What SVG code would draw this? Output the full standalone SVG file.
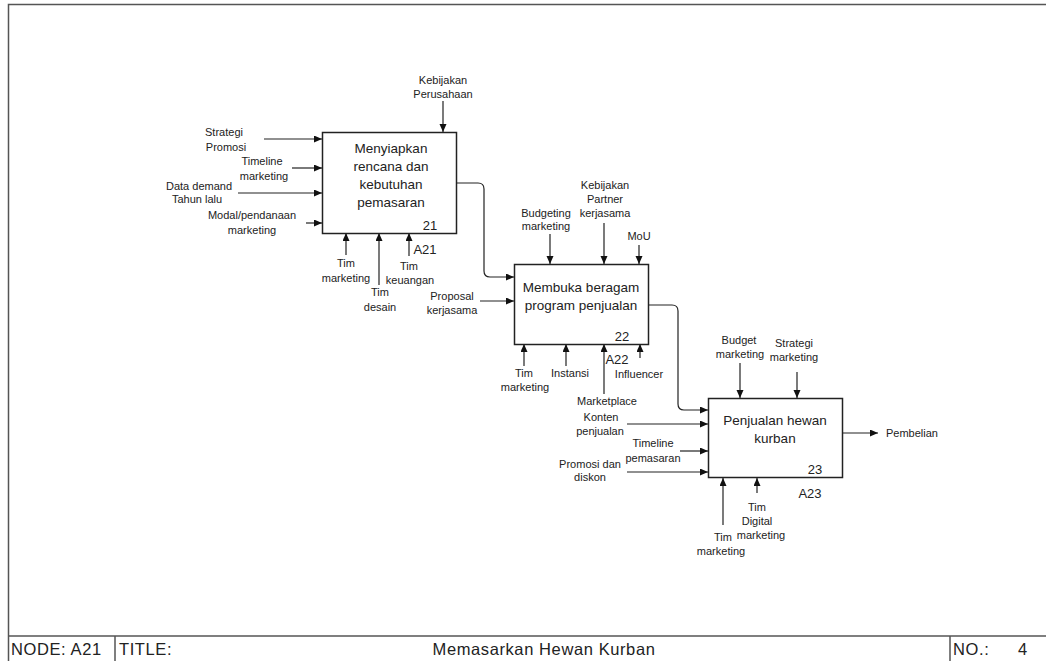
<svg xmlns="http://www.w3.org/2000/svg" width="1046" height="661" viewBox="0 0 1046 661">
  <style>
    .frame { fill: none; stroke: #555; stroke-width: 1.5; }
    .box { fill: #fff; stroke: #222; stroke-width: 1.5; }
    .conn { fill: none; stroke: #222; stroke-width: 1.2; marker-end: url(#arrow); }
    .lbl { font-family: "Liberation Sans", Arial, sans-serif; font-size: 11px; fill: #222; text-anchor: middle; dominant-baseline: central; }
    .title { font-family: "Liberation Sans", Arial, sans-serif; font-size: 13.5px; fill: #222; text-anchor: middle; dominant-baseline: central; }
    .num { font-family: "Liberation Sans", Arial, sans-serif; font-size: 13px; fill: #222; text-anchor: middle; dominant-baseline: central; }
    .bar { font-family: "Liberation Sans", Arial, sans-serif; font-size: 16.5px; letter-spacing: 0.6px; fill: #222; dominant-baseline: central; }
  </style>
  <defs>
    <marker id="arrow" markerUnits="userSpaceOnUse" markerWidth="9" markerHeight="8" refX="8" refY="3.5" orient="auto">
      <path d="M0,0 L8,3.5 L0,7 z" fill="#111"/>
    </marker>
  </defs>

  <rect width="1046" height="661" fill="#fff"/>

  <!-- drawing frame and title bar -->
  <g id="frame">
    <path class="frame" d="M1046,4.5 H8.5 V661"/>
    <line class="frame" x1="8" y1="636" x2="1046" y2="636"/>
    <line class="frame" x1="115" y1="636" x2="115" y2="661"/>
    <line class="frame" x1="950" y1="636" x2="950" y2="661"/>
    <text class="bar" x="11" y="649">NODE: A21</text>
    <text class="bar" x="119" y="649">TITLE:</text>
    <text class="bar" x="544" y="649" text-anchor="middle">Memasarkan Hewan Kurban</text>
    <text class="bar" x="953" y="649">NO.:</text>
    <text class="bar" x="1023" y="649" text-anchor="middle">4</text>
  </g>

  <!-- connectors -->
  <g id="connectors">
    <!-- box 21 inputs -->
    <line class="conn" x1="264" y1="139" x2="322" y2="139"/>
    <line class="conn" x1="292" y1="168" x2="322" y2="168"/>
    <line class="conn" x1="238" y1="193" x2="322" y2="193"/>
    <line class="conn" x1="306" y1="223" x2="322" y2="223"/>
    <!-- box 21 control -->
    <line class="conn" x1="443" y1="101" x2="443" y2="132"/>
    <!-- box 21 mechanisms -->
    <line class="conn" x1="346" y1="255" x2="346" y2="233"/>
    <line class="conn" x1="379" y1="285" x2="379" y2="233"/>
    <line class="conn" x1="409" y1="256" x2="409" y2="233"/>
    <!-- 21 -> 22 -->
    <path class="conn" d="M457,183 H478 Q484,183 484,189 V271 Q484,277 490,277 H514"/>

    <!-- box 22 input -->
    <line class="conn" x1="480" y1="301" x2="514" y2="301"/>
    <!-- box 22 controls -->
    <line class="conn" x1="550" y1="234" x2="550" y2="264"/>
    <line class="conn" x1="604" y1="223" x2="604" y2="264"/>
    <line class="conn" x1="639" y1="245" x2="639" y2="264"/>
    <!-- box 22 mechanisms -->
    <line class="conn" x1="524" y1="366" x2="524" y2="344"/>
    <line class="conn" x1="566" y1="366" x2="566" y2="344"/>
    <line class="conn" x1="604" y1="394" x2="604" y2="344"/>
    <line class="conn" x1="640" y1="358" x2="640" y2="344"/>
    <!-- 22 -> 23 -->
    <path class="conn" d="M648,305 H672 Q678,305 678,311 V404 Q678,410 684,410 H708"/>

    <!-- box 23 inputs -->
    <line class="conn" x1="627" y1="424" x2="708" y2="424"/>
    <line class="conn" x1="680" y1="451" x2="708" y2="451"/>
    <line class="conn" x1="627" y1="472" x2="708" y2="472"/>
    <!-- box 23 controls -->
    <line class="conn" x1="740" y1="363" x2="740" y2="398"/>
    <line class="conn" x1="797" y1="372" x2="797" y2="398"/>
    <!-- box 23 mechanisms -->
    <line class="conn" x1="723" y1="525" x2="723" y2="478"/>
    <line class="conn" x1="757" y1="493" x2="757" y2="478"/>
    <!-- box 23 output -->
    <line class="conn" x1="843" y1="433" x2="878" y2="433"/>
  </g>

  <!-- activity 21 -->
  <g id="node-a21">
    <rect class="box" x="322.5" y="132.5" width="134" height="101"/>
    <text class="title" x="391" y="148">Menyiapkan</text>
    <text class="title" x="391" y="166">rencana dan</text>
    <text class="title" x="391" y="184">kebutuhan</text>
    <text class="title" x="391" y="202">pemasaran</text>
    <text class="num" x="430" y="225">21</text>
    <text class="num" x="425" y="249">A21</text>
  </g>

  <!-- activity 22 -->
  <g id="node-a22">
    <rect class="box" x="514.5" y="264.5" width="134" height="80"/>
    <text class="title" x="581" y="287">Membuka beragam</text>
    <text class="title" x="581" y="305">program penjualan</text>
    <text class="num" x="622" y="336">22</text>
    <text class="num" x="617" y="359">A22</text>
  </g>

  <!-- activity 23 -->
  <g id="node-a23">
    <rect class="box" x="708.5" y="398.5" width="134" height="79"/>
    <text class="title" x="775" y="420">Penjualan hewan</text>
    <text class="title" x="775" y="438">kurban</text>
    <text class="num" x="815" y="469">23</text>
    <text class="num" x="810" y="493">A23</text>
  </g>

  <!-- arrow labels -->
  <g id="labels-a21">
    <text class="lbl" x="224" y="132">Strategi</text>
    <text class="lbl" x="226" y="147">Promosi</text>
    <text class="lbl" x="262" y="161">Timeline</text>
    <text class="lbl" x="264" y="176">marketing</text>
    <text class="lbl" x="199" y="186">Data demand</text>
    <text class="lbl" x="197" y="199">Tahun lalu</text>
    <text class="lbl" x="252" y="215">Modal/pendanaan</text>
    <text class="lbl" x="252" y="230">marketing</text>
    <text class="lbl" x="443" y="80">Kebijakan</text>
    <text class="lbl" x="443" y="94">Perusahaan</text>
    <text class="lbl" x="346" y="263">Tim</text>
    <text class="lbl" x="346" y="278">marketing</text>
    <text class="lbl" x="380" y="292">Tim</text>
    <text class="lbl" x="380" y="307">desain</text>
    <text class="lbl" x="409" y="266">Tim</text>
    <text class="lbl" x="410" y="280">keuangan</text>
  </g>

  <g id="labels-a22">
    <text class="lbl" x="452" y="296">Proposal</text>
    <text class="lbl" x="452" y="310">kerjasama</text>
    <text class="lbl" x="546" y="213">Budgeting</text>
    <text class="lbl" x="546" y="226">marketing</text>
    <text class="lbl" x="605" y="185">Kebijakan</text>
    <text class="lbl" x="605" y="199">Partner</text>
    <text class="lbl" x="605" y="213">kerjasama</text>
    <text class="lbl" x="639" y="236">MoU</text>
    <text class="lbl" x="524" y="373">Tim</text>
    <text class="lbl" x="525" y="387">marketing</text>
    <text class="lbl" x="570" y="373">Instansi</text>
    <text class="lbl" x="639" y="374">Influencer</text>
    <text class="lbl" x="607" y="401">Marketplace</text>
  </g>

  <g id="labels-a23">
    <text class="lbl" x="601" y="417">Konten</text>
    <text class="lbl" x="600" y="431">penjualan</text>
    <text class="lbl" x="653" y="443">Timeline</text>
    <text class="lbl" x="653" y="458">pemasaran</text>
    <text class="lbl" x="590" y="464">Promosi dan</text>
    <text class="lbl" x="590" y="477">diskon</text>
    <text class="lbl" x="739" y="340">Budget</text>
    <text class="lbl" x="740" y="354">marketing</text>
    <text class="lbl" x="794" y="343">Strategi</text>
    <text class="lbl" x="794" y="357">marketing</text>
    <text class="lbl" x="912" y="433">Pembelian</text>
    <text class="lbl" x="723" y="537">Tim</text>
    <text class="lbl" x="721" y="551">marketing</text>
    <text class="lbl" x="757" y="507">Tim</text>
    <text class="lbl" x="757" y="521">Digital</text>
    <text class="lbl" x="761" y="535">marketing</text>
  </g>
</svg>
